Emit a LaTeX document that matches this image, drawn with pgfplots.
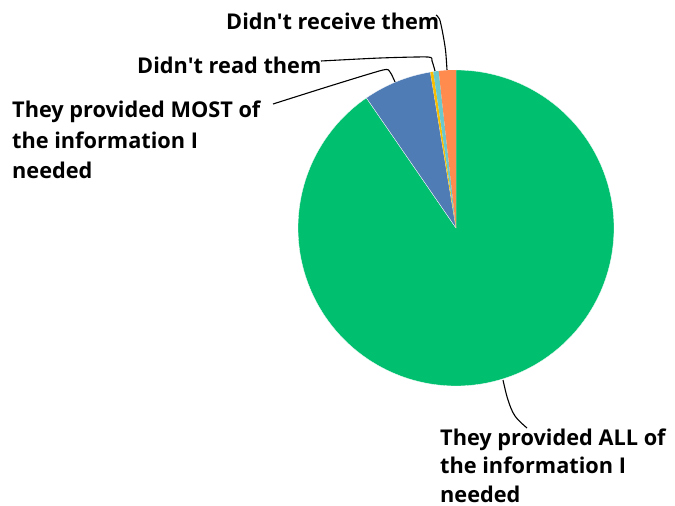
\documentclass[border=0pt]{standalone}
\usepackage{fontspec}
\setmainfont{Open Sans}[Ligatures={NoCommon}]
\usepackage{pgfplots}
\pgfplotsset{compat=1.18}
\definecolor{cAll}{HTML}{00BF6F}
\definecolor{cMost}{HTML}{507CB6}
\definecolor{cOther}{HTML}{F9BE00}
\definecolor{cRead}{HTML}{6BC8CD}
\definecolor{cRecv}{HTML}{FF8B4F}
% shares in percent, clockwise from 12 o'clock
\def\pAll{90.4}
\def\pMost{7.0}
\def\pOther{0.3}
\def\pRead{0.55}
\def\pRecv{1.75}
\pgfmathsetmacro{\aA}{-90}
\pgfmathsetmacro{\aB}{\aA+3.6*\pAll}
\pgfmathsetmacro{\aC}{\aB+3.6*\pMost}
\pgfmathsetmacro{\aD}{\aC+3.6*\pOther}
\pgfmathsetmacro{\aE}{\aD+3.6*\pRead}
\pgfmathsetmacro{\aF}{\aE+3.6*\pRecv}
\def\cx{456}
\def\cy{228}
\def\R{158}
\begin{document}
\begin{tikzpicture}
\begin{axis}[scale only axis, width=675bp, height=506bp,
  xmin=0, xmax=675, ymin=0, ymax=506, y dir=reverse,
  axis lines=none, clip=false,
  every axis plot/.append style={variable=\t, samples=181, line join=round}]
\addplot[fill=cAll, draw=white, line width=0.3pt, domain=\aA:\aB] ({\cx+\R*cos(\t)},{\cy+\R*sin(\t)}) -- (\cx,\cy) -- cycle;
\addplot[fill=cMost, draw=white, line width=0.3pt, domain=\aB:\aC, samples=40] ({\cx+\R*cos(\t)},{\cy+\R*sin(\t)}) -- (\cx,\cy) -- cycle;
\addplot[fill=cOther, draw=none, domain=\aC:\aD, samples=5] ({\cx+\R*cos(\t)},{\cy+\R*sin(\t)}) -- (\cx,\cy) -- cycle;
\addplot[fill=cRead, draw=none, domain=\aD:\aE, samples=5] ({\cx+\R*cos(\t)},{\cy+\R*sin(\t)}) -- (\cx,\cy) -- cycle;
\addplot[fill=cRecv, draw=none, domain=\aE:\aF, samples=10] ({\cx+\R*cos(\t)},{\cy+\R*sin(\t)}) -- (\cx,\cy) -- cycle;
% leader lines
\addplot[black, line width=1.1pt, smooth, tension=0.5] coordinates {(436,15) (439.5,19) (442.5,32) (445.5,50) (447,70)};
\addplot[black, line width=1.1pt, smooth, tension=0.4] coordinates {(321,61) (380,58) (428,57) (432,61) (435,71)};
\addplot[black, line width=1.1pt, smooth, tension=0.4] coordinates {(273,104) (330,86) (383,70) (390,72) (395,82)};
\addplot[black, line width=1.1pt, smooth, tension=0.6] coordinates {(503,380) (508,400) (515,416) (527,428)};
% labels
\begin{scope}[every node/.style={anchor=base west, inner sep=0pt, font=\bfseries\fontsize{21.8}{26}\selectfont}]
\node at (226,30) {Didn\textquotesingle t receive them};
\node at (137,74) {Didn\textquotesingle t read them};
\node at (12,118) {They provided MOST of};
\node at (12,148) {the information I};
\node at (12,178) {needed};
\node at (440,445) {They provided ALL of};
\node at (440,473.5) {the information I};
\node at (440,502) {needed};
\end{scope}
\end{axis}
\pgfresetboundingbox
\path (current axis.south west) rectangle (current axis.north east);
\end{tikzpicture}
\end{document}
